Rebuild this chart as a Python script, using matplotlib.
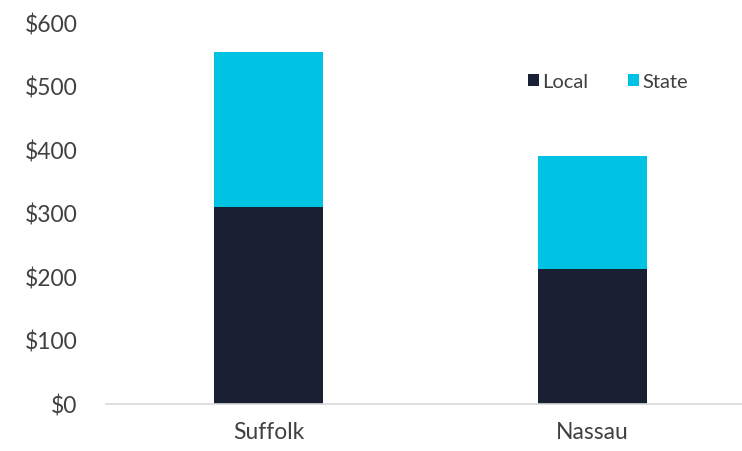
import numpy as np
import matplotlib
matplotlib.use('Agg')
import matplotlib.pyplot as plt

counties = ['Suffolk', 'Nassau']
local = [311, 213]
state = [244, 178]
yticks = [0, 100, 200, 300, 400, 500, 600]

plt.rcParams['font.family'] = ['Lato', 'DejaVu Sans']

fig = plt.figure(figsize=(7.42, 4.51), dpi=100)
ax = fig.add_axes([0.1435, 0.1042, 0.8733, 0.8437])

x = np.arange(len(counties))
ax.bar(x, local, width=0.335, color='#1a2033', label='Local')
ax.bar(x, state, width=0.335, bottom=local, color='#00c2e3', label='State')

ax.set_xlim(-0.5, 1.5)
ax.set_ylim(0, 600)
ax.set_xticks(x)
ax.set_xticklabels(counties)
ax.set_yticks(yticks)
ax.set_yticklabels(['$%d' % v for v in yticks])
ax.tick_params(axis='both', length=0, labelsize=16.5, labelcolor='#404040')
ax.tick_params(axis='x', pad=13)
ax.tick_params(axis='y', pad=21)
for s in ['top', 'right', 'left']:
    ax.spines[s].set_visible(False)
ax.spines['bottom'].set_color('#d9d9d9')
ax.spines['bottom'].set_linewidth(1.2)

leg = fig.legend(loc='center', bbox_to_anchor=(608 / 742, 1 - 82 / 451), ncol=2,
                 frameon=False, fontsize=14.5, handlelength=0.55, handleheight=0.55,
                 handletextpad=0.15, columnspacing=2.0, labelcolor='#404040')

fig.savefig('out.png', dpi=100)
